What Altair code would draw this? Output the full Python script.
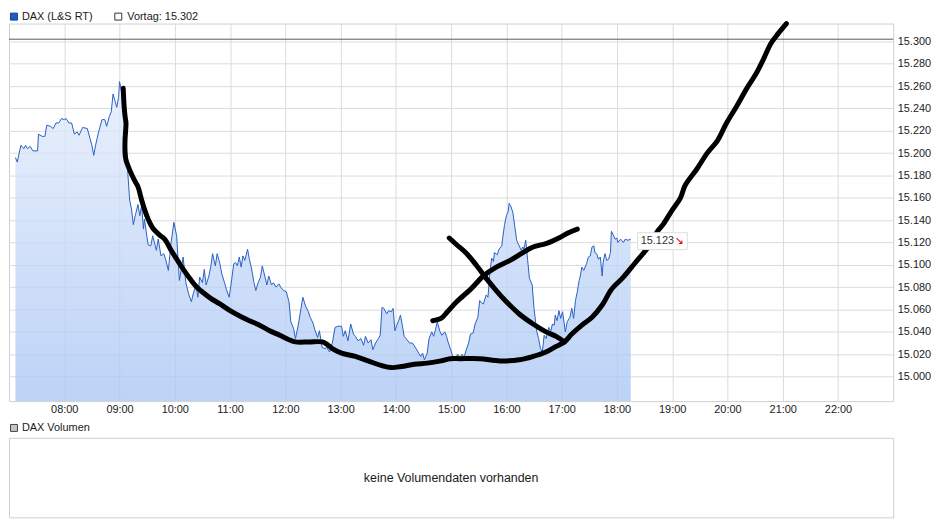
import altair as alt
import pandas as pd

# ---------------- data ----------------
price_times = [
    "07:07", "07:09", "07:11", "07:13", "07:16", "07:18", "07:20", "07:23", "07:26", "07:31",
    "07:32", "07:36", "07:39", "07:41", "07:45", "07:48", "07:51", "07:54", "07:57", "08:00",
    "08:02", "08:05", "08:08", "08:11", "08:14", "08:16", "08:20", "08:25", "08:28", "08:30",
    "08:32", "08:34", "08:37", "08:41", "08:44", "08:46", "08:49", "08:51", "08:53", "08:55",
    "08:57", "08:59", "09:00", "09:02", "09:04", "09:06", "09:08", "09:09", "09:11", "09:13",
    "09:15", "09:17", "09:18", "09:20", "09:22", "09:24", "09:26", "09:27", "09:31", "09:34",
    "09:36", "09:40", "09:42", "09:45", "09:48", "09:50", "09:53", "09:56", "09:59", "10:02",
    "10:05", "10:07", "10:09", "10:12", "10:15", "10:18", "10:20", "10:23", "10:25", "10:27",
    "10:30", "10:32", "10:34", "10:37", "10:39", "10:41", "10:44", "10:46", "10:49", "10:51",
    "10:54", "10:56", "10:59", "11:01", "11:04", "11:06", "11:08", "11:10", "11:12", "11:14",
    "11:16", "11:19", "11:21", "11:23", "11:26", "11:28", "11:30", "11:33", "11:35", "11:38",
    "11:40", "11:42", "11:45", "11:47", "11:50", "11:53", "11:55", "11:58", "12:01", "12:04",
    "12:06", "12:09", "12:11", "12:14", "12:17", "12:19", "12:22", "12:25", "12:27", "12:30",
    "12:32", "12:35", "12:37", "12:40", "12:43", "12:45", "12:48", "12:51", "12:54", "12:57",
    "13:01", "13:03", "13:05", "13:08", "13:11", "13:14", "13:16", "13:19", "13:22", "13:25",
    "13:27", "13:30", "13:33", "13:35", "13:38", "13:41", "13:43", "13:45", "13:47", "13:50",
    "13:52", "13:55", "13:57", "13:59", "14:01", "14:03", "14:05", "14:07", "14:09", "14:12",
    "14:15", "14:18", "14:22", "14:24", "14:27", "14:29", "14:31", "14:34", "14:36", "14:39",
    "14:41", "14:43", "14:45", "14:48", "14:50", "14:53", "14:55", "14:57", "15:00", "15:02",
    "15:05", "15:07", "15:09", "15:12", "15:14", "15:16", "15:19", "15:21", "15:24", "15:26",
    "15:29", "15:31", "15:33", "15:35", "15:38", "15:40", "15:42", "15:44", "15:46", "15:47",
    "15:50", "15:52", "15:55", "15:56", "15:58", "16:00", "16:02", "16:03", "16:05", "16:07",
    "16:09", "16:11", "16:12", "16:14", "16:16", "16:18", "16:19", "16:21", "16:23", "16:25",
    "16:28", "16:30", "16:33", "16:35", "16:37", "16:39", "16:41", "16:43", "16:46", "16:48",
    "16:50", "16:52", "16:53", "16:55", "16:57", "16:59", "17:01", "17:04", "17:06", "17:09",
    "17:11", "17:13", "17:15", "17:17", "17:19", "17:20", "17:22", "17:24", "17:26", "17:27",
    "17:29", "17:31", "17:33", "17:35", "17:36", "17:38", "17:40", "17:42", "17:44", "17:45",
    "17:47", "17:49", "17:51", "17:53", "17:54", "17:56", "17:58", "18:00", "18:01", "18:04",
    "18:07", "18:09", "18:12", "18:15",
]
price_values = [
    15196, 15192, 15200, 15207, 15204, 15207, 15204, 15206, 15202, 15202,
    15217, 15215, 15215, 15225, 15224, 15222, 15227, 15227, 15231, 15230,
    15231, 15227, 15227, 15217, 15219, 15216, 15223, 15222, 15213, 15207,
    15198, 15207, 15218, 15230, 15230, 15224, 15233, 15237, 15253, 15247,
    15241, 15250, 15264, 15256, 15241, 15221, 15200, 15182, 15158, 15150,
    15136, 15144, 15147, 15154, 15144, 15153, 15132, 15141, 15118, 15117,
    15126, 15113, 15123, 15108, 15110, 15105, 15095, 15120, 15138, 15126,
    15086, 15096, 15107, 15084, 15074, 15067, 15074, 15082, 15071, 15089,
    15084, 15096, 15082, 15090, 15098, 15110, 15099, 15110, 15101, 15092,
    15084, 15078, 15071, 15082, 15101, 15102, 15099, 15107, 15098, 15108,
    15104, 15114, 15105, 15098, 15084, 15077, 15083, 15089, 15099, 15089,
    15082, 15090, 15082, 15084, 15080, 15083, 15080, 15077, 15076, 15067,
    15049, 15043, 15034, 15046, 15061, 15071, 15063, 15058, 15053, 15048,
    15042, 15035, 15041, 15026, 15025, 15026, 15022, 15030, 15044, 15045,
    15045, 15036, 15041, 15032, 15047, 15038, 15036, 15032, 15034, 15028,
    15036, 15030, 15033, 15024, 15030, 15034, 15037, 15062, 15061, 15056,
    15059, 15058, 15061, 15041, 15046, 15050, 15055, 15046, 15036, 15033,
    15030, 15030, 15025, 15022, 15018, 15021, 15015, 15021, 15034, 15040,
    15036, 15042, 15049, 15040, 15037, 15040, 15036, 15030, 15023, 15017,
    15016, 15020, 15017, 15020, 15017, 15023, 15030, 15038, 15039, 15047,
    15053, 15068, 15066, 15065, 15073, 15071, 15092, 15106, 15103, 15111,
    15109, 15114, 15117, 15124, 15136, 15144, 15148, 15155, 15152, 15147,
    15135, 15123, 15120, 15117, 15113, 15116, 15114, 15122, 15105, 15088,
    15082, 15061, 15040, 15034, 15025, 15022, 15037, 15034, 15044, 15040,
    15047, 15046, 15055, 15050, 15059, 15052, 15058, 15040, 15049, 15053,
    15061, 15052, 15068, 15076, 15086, 15089, 15098, 15095, 15099, 15101,
    15107, 15108, 15116, 15117, 15111, 15110, 15105, 15107, 15090, 15102,
    15110, 15104, 15105, 15111, 15130, 15127, 15123, 15124, 15120, 15123,
    15120, 15123, 15122, 15123,
]

# hand-drawn black strokes
u_times = [
    "09:04", "09:05", "09:06", "09:07", "09:06", "09:06", "09:07", "09:11", "09:16", "09:20",
    "09:24", "09:27", "09:31", "09:36", "09:43", "09:49", "09:56", "10:03", "10:10", "10:17",
    "10:24", "10:31", "10:39", "10:49", "11:00", "11:11", "11:21", "11:32", "11:43", "11:54",
    "12:04", "12:11", "12:26", "12:40", "12:45", "12:51", "13:01", "13:16", "13:30", "13:44",
    "13:55", "14:06", "14:20", "14:34", "14:49", "14:59", "15:10", "15:31", "15:53", "16:14",
    "16:29", "16:43", "16:54", "17:03", "17:11", "17:22", "17:33", "17:44", "17:54", "18:07",
    "18:19", "18:34", "18:44", "18:50", "19:00", "19:09", "19:14", "19:27", "19:38", "19:49",
    "19:59", "20:10", "20:21", "20:31", "20:39", "20:47", "20:55", "21:04",
]
u_values = [
    15258, 15242, 15233, 15227, 15212, 15200, 15194, 15185, 15176, 15170,
    15158, 15150, 15141, 15133, 15127, 15123, 15113, 15104, 15095, 15087,
    15080, 15075, 15070, 15065, 15059, 15054, 15050, 15046, 15041, 15037,
    15033, 15031, 15031, 15031, 15029, 15025, 15021, 15018, 15014, 15010,
    15008, 15009, 15011, 15012, 15014, 15016, 15016, 15016, 15014, 15015,
    15018, 15022, 15027, 15031, 15038, 15046, 15053, 15064, 15078, 15089,
    15101, 15116, 15130, 15136, 15149, 15160, 15171, 15186, 15200, 15211,
    15227, 15242, 15258, 15271, 15284, 15298, 15307, 15316,
]
up_times = ["14:40", "14:49", "14:56", "15:06", "15:21", "15:35", "15:49", "16:04",
            "16:18", "16:29", "16:43", "16:57", "17:08", "17:17"]
up_values = [15050, 15052, 15058, 15067, 15078, 15090, 15098, 15104,
             15111, 15116, 15119, 15124, 15129, 15132]
down_times = ["14:58", "15:06", "15:17", "15:28", "15:39", "15:49", "16:00", "16:14",
              "16:29", "16:43", "16:54", "17:03"]
down_values = [15124, 15118, 15110, 15099, 15087, 15077, 15067, 15056,
               15047, 15040, 15036, 15031]

prev_close = 15302
hour_ticks = list(range(8, 23))
value_ticks = list(range(15000, 15301, 20))
x_domain = [7, 23]
y_domain = [14978, 15316]

series_name = "DAX (L&S RT)"
prev_label = "Vortag: 15.302"
volume_name = "DAX Volumen"
volume_msg = "keine Volumendaten vorhanden"


def to_hours(t):
    h, m = t.split(":")
    return int(h) + int(m) / 60.0


price = pd.DataFrame({"t": [to_hours(s) for s in price_times], "v": price_values})

stroke_frames = []
for name, ts, vs in [("u", u_times, u_values), ("up", up_times, up_values),
                     ("down", down_times, down_values)]:
    stroke_frames.append(pd.DataFrame({
        "t": [to_hours(s) for s in ts], "v": vs, "g": name, "i": list(range(len(ts)))
    }))
strokes = pd.concat(stroke_frames, ignore_index=True)

last = price.iloc[[-1]].copy()
last["label"] = "{:,}".format(int(last["v"].iloc[0])).replace(",", ".")
last["arrow"] = "\u2198"

W, H = 890, 380
FONT = "Liberation Sans"

x_enc = alt.X(
    "t:Q",
    scale=alt.Scale(domain=x_domain, nice=False, zero=False),
    axis=alt.Axis(
        values=hour_ticks,
        labelExpr="(datum.value < 10 ? '0' : '') + datum.value + ':00'",
        grid=True, gridColor="#dcdcdc", ticks=False, domain=False, title=None,
        labelPadding=2, labelFontSize=11, labelColor="#1a1a1a", labelFont=FONT,
    ),
)
y_enc = alt.Y(
    "v:Q",
    scale=alt.Scale(domain=y_domain, nice=False, zero=False),
    axis=alt.Axis(
        orient="right", values=value_ticks, format=",d",
        labelExpr="replace(datum.label, ',', '.')",
        grid=True, gridColor="#dcdcdc", ticks=False, domain=False, title=None,
        labelPadding=4, labelFontSize=11, labelColor="#1a1a1a", labelFont=FONT,
    ),
)

gradient = alt.Gradient(
    gradient="linear",
    stops=[alt.GradientStop(color="#e3ecfb", offset=0),
           alt.GradientStop(color="#a6c4f4", offset=1)],
    x1=1, x2=1, y1=0, y2=1,
)

area = alt.Chart(price).mark_area(fill=gradient, opacity=0.75, clip=True).encode(
    x=x_enc, y=y_enc, y2=alt.datum(y_domain[0]))
line = alt.Chart(price).mark_line(color="#2a60c2", strokeWidth=1).encode(x=x_enc, y=y_enc)
prev_rule = alt.Chart(pd.DataFrame({"v": [prev_close]})).mark_rule(
    color="#5a5a5a", strokeWidth=1).encode(y=y_enc)

ink = alt.Chart(strokes).mark_line(
    color="black", strokeWidth=5, strokeCap="round", strokeJoin="round",
    interpolate="catmull-rom", clip=False,
).encode(x=x_enc, y=y_enc, detail="g:N", order="i:Q")

box = alt.Chart(last).mark_rect(
    width=50, height=17, xOffset=32, yOffset=2, fill="white", stroke="#dddddd", strokeWidth=1
).encode(x=x_enc, y=y_enc)
box_text = alt.Chart(last).mark_text(
    align="left", baseline="middle", dx=10, dy=2, fontSize=11, color="#333333", font=FONT
).encode(x=x_enc, y=y_enc, text="label:N")
box_arrow = alt.Chart(last).mark_text(
    align="left", baseline="middle", dx=44, dy=2, fontSize=11, color="#e00000", font="DejaVu Sans"
).encode(x=x_enc, y=y_enc, text="arrow:N")

leg = pd.DataFrame({"k": [0]})
leg_sq1 = alt.Chart(leg).mark_square(size=49, fill="#1f5bc4", stroke="#163f8c", strokeWidth=1,
                                     opacity=1).encode(x=alt.value(5), y=alt.value(-7))
leg_tx1 = alt.Chart(leg).mark_text(align="left", baseline="middle", fontSize=11, color="#1a1a1a",
                                   font=FONT, text=series_name).encode(x=alt.value(13), y=alt.value(-7))
leg_sq2 = alt.Chart(leg).mark_square(size=49, fill="white", stroke="#333333", strokeWidth=1,
                                     opacity=1).encode(x=alt.value(110), y=alt.value(-7))
leg_tx2 = alt.Chart(leg).mark_text(align="left", baseline="middle", fontSize=11, color="#1a1a1a",
                                   font=FONT, text=prev_label).encode(x=alt.value(119), y=alt.value(-7))

top = alt.layer(
    area, line, prev_rule, ink, box, box_text, box_arrow,
    leg_sq1, leg_tx1, leg_sq2, leg_tx2,
).properties(width=W, height=H)

vol = pd.DataFrame({"msg": [volume_msg]})
vol_text = alt.Chart(vol).mark_text(
    align="center", baseline="middle", fontSize=12.5, color="#1a1a1a", font=FONT
).encode(x=alt.value(W / 2), y=alt.value(40), text="msg:N")
vol_sq = alt.Chart(leg).mark_square(size=49, fill="#c4c4c4", stroke="#444444", strokeWidth=1,
                                    opacity=1).encode(x=alt.value(5), y=alt.value(-10))
vol_tx = alt.Chart(leg).mark_text(align="left", baseline="middle", fontSize=11, color="#1a1a1a",
                                  font=FONT, text=volume_name).encode(x=alt.value(13), y=alt.value(-10))
bottom = alt.layer(vol_text, vol_sq, vol_tx).properties(width=W, height=80)

chart = alt.vconcat(top, bottom, spacing=6).properties(
    padding={"left": 0, "top": 0, "right": 0, "bottom": 0}
).configure(font=FONT).configure_view(stroke="#d0d0d0", strokeWidth=1)

chart.save("out.html", embed_options={"renderer": "svg", "actions": False})
